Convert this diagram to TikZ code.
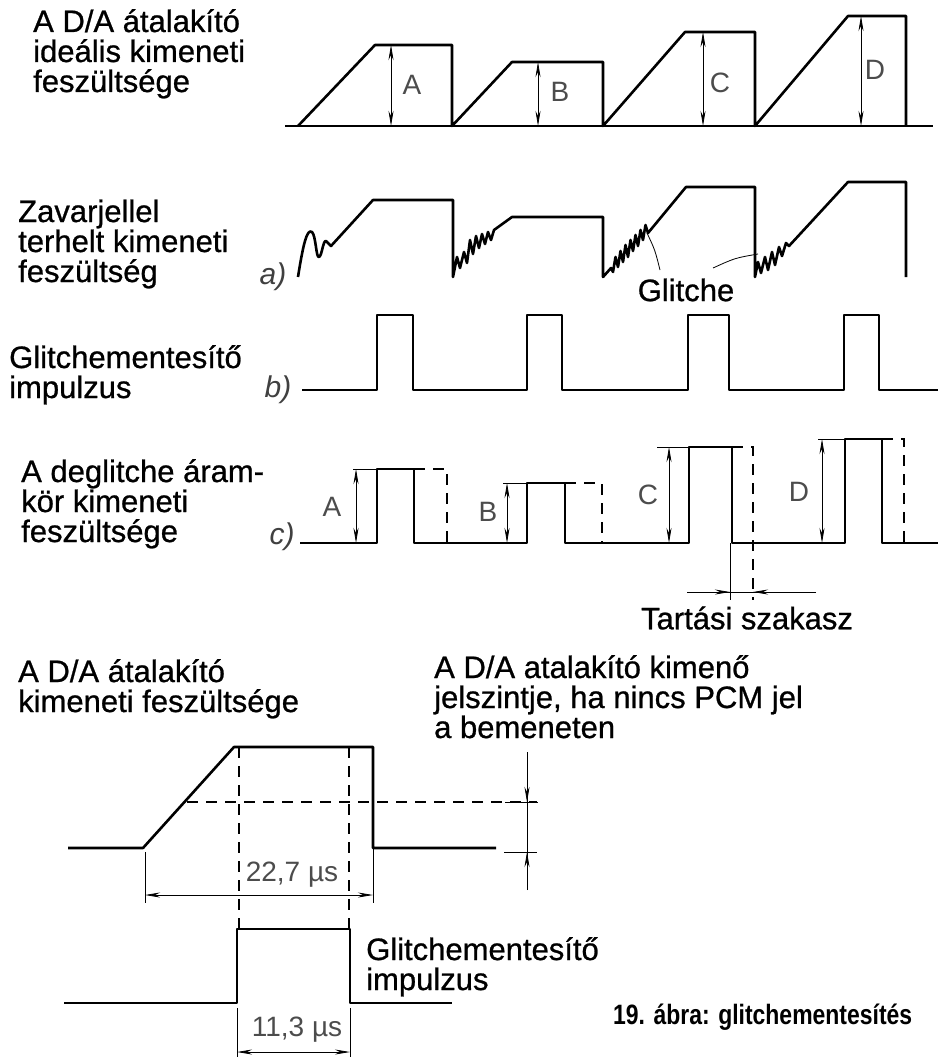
\documentclass[tikz,border=0pt]{standalone}
\usepackage{graphicx}
\usepackage{fontspec}
\setmainfont{Liberation Sans}
\newfontfamily\labelfam[FakeBold=0.8]{Liberation Sans}
\usetikzlibrary{arrows.meta}

\begin{document}
\begin{tikzpicture}[
  x=1pt, y=-1pt,
  >={Stealth[length=15pt,width=5pt]},
  wave/.style={line width=2.6pt, line join=round},
  dsh/.style={line width=1.1pt, dash pattern=on 11pt off 8pt},
  fine/.style={line width=0.8pt},
  dim/.style={fine, <->},
  lbl/.style={font=\labelfam\fontsize{31}{30}\selectfont, align=left, anchor=base west, inner sep=0pt},
  tech/.style={font=\fontsize{28}{28}\selectfont, text=black!70, inner sep=0pt},
  tag/.style={font=\itshape\fontsize{30}{30}\selectfont, text=black!75, inner sep=0pt}
]
\useasboundingbox (0,0) rectangle (938,1057);

% ideal output
\node[lbl] (ideal) at (33,92) {A D/A átalakító\\ideális kimeneti\\feszültsége};
\draw[wave] (285,126) -- (933,126);
\draw[wave] (298,126) -- (375,45) -- (452,45) -- (452,126) -- (512,62) -- (603,62) -- (603,126)
  -- (685,32) -- (755,32) -- (755,126) -- (848,16) -- (906,16) -- (906,126);
\draw[dim] (391,45) -- (391,126);
\draw[dim] (538,62) -- (538,126);
\draw[dim] (703,32) -- (703,126);
\draw[dim] (861,16) -- (861,126);
\node[tech] (hA) at (412,85) {A};
\node[tech] (hB) at (560,92) {B};
\node[tech] (hC) at (720,83) {C};
\node[tech] (hD) at (875,70) {D};

% output with glitches
\node[lbl] (noisy) at (18,282) {Zavarjellel\\terhelt kimeneti\\feszültség};
\node[tag] (ta) at (273,277) {a)};
\draw[wave] (298,277) .. controls (303,245) and (307,228) .. (312,232)
  .. controls (316,236) and (316,258) .. (319,257) .. controls (322,256) and (323,240) .. (326,241)
  -- (331,246) -- (373,200) -- (453,200) -- (453,277)
  -- (457,257) -- (460,268) -- (464,252) -- (467,263) -- (470,240) -- (473,254) -- (476,236)
  -- (479,248) -- (482,234) -- (485,244) -- (488,232) -- (491,240) -- (494,230)
  -- (512,217) -- (603,217) -- (603,277)
  -- (611,268) -- (613,272) -- (615.5,257) -- (618,267) -- (620.5,251) -- (623,262) -- (625.5,245)
  -- (628,257) -- (630.5,240) -- (633,251) -- (635.5,235) -- (638,246) -- (640.5,230)
  -- (643,240) -- (645.5,225) -- (648,233)
  -- (686,187) -- (755,187) -- (755,277)
  -- (758,262) -- (761,273) -- (765,257) -- (768,270) -- (772,252) -- (775,265) -- (779,247)
  -- (782,256) -- (786,243) -- (789,246) -- (848,182) -- (906,182) -- (906,277);
\node[font=\labelfam\fontsize{31}{31}\selectfont, inner sep=0pt] (glitch) at (686,290) {Glitche};
\draw[fine] (660,270) .. controls (655,250) .. (647,233);
\draw[fine] (713,268) .. controls (735,258) .. (758,254);

% deglitch pulses
\node[lbl] (pulse) at (9,398) {Glitchementesítő\\impulzus};
\node[tag] (tb) at (278,390) {b)};
\draw[wave] (302,390) -- (377,390) -- (377,315) -- (413,315) -- (413,390) -- (527,390) -- (527,315)
  -- (562,315) -- (562,390) -- (688,390) -- (688,315) -- (729,315) -- (729,390) -- (844,390)
  -- (844,315) -- (879,315) -- (879,390) -- (938,390);

% deglitcher output
\node[lbl] (held) at (21,542) {A deglitche áram-\\kör kimeneti\\feszültsége};
\node[tag] (tc) at (282,537) {c)};
\draw[wave] (300,543) -- (377,543) -- (377,469) -- (414,469) -- (414,543) -- (527,543) -- (527,483)
  -- (565,483) -- (565,543) -- (689,543) -- (689,447) -- (732,447) -- (732,543) -- (845,543)
  -- (845,439) -- (882,439) -- (882,543) -- (938,543);
\draw[dsh] (414,469) -- (447,469) -- (447,543);
\draw[dsh] (565,483) -- (602,483) -- (602,543);
\draw[dsh] (732,447) -- (753,447) -- (753,600);
\draw[dsh] (882,439) -- (904,439) -- (904,543);
\draw[fine] (353,469) -- (377,469);
\draw[fine] (503,483) -- (527,483);
\draw[fine] (657,447) -- (689,447);
\draw[fine] (818,439) -- (845,439);
\draw[dim] (356,469) -- (356,543);
\draw[dim] (507,483) -- (507,543);
\draw[dim] (669,447) -- (669,543);
\draw[dim] (822,439) -- (822,543);
\node[tech] (lA) at (332,507) {A};
\node[tech] (lB) at (488,512) {B};
\node[tech] (lC) at (648,495) {C};
\node[tech] (lD) at (799,492) {D};
\draw[fine] (730,543) -- (730,600);
\draw[fine] (687,592) -- (816,592);
\draw[fine, ->] (687,592) -- (730,592);
\draw[fine, ->] (816,592) -- (753,592);
\node[font=\labelfam\fontsize{31}{31}\selectfont, inner sep=0pt] (hold) at (747,618) {Tartási szakasz};

% timing detail
\node[lbl] (dac) at (18,712) {A D/A átalakító\\kimeneti feszültsége};
\node[lbl] (idle) at (434,738) {A D/A atalakító kimenő\\jelszintje, ha nincs PCM jel\\a bemeneten};
\draw[wave] (68,848) -- (143,848) -- (234,747) -- (373,747) -- (373,848) -- (496,848);
\draw[dsh] (187,802) -- (537,802);
\draw[dsh] (239,747) -- (239,929);
\draw[dsh] (349,747) -- (349,929);
\draw[fine] (145,852) -- (145,903);
\draw[fine] (373,848) -- (373,903);
\draw[dim] (145,895) -- (373,895);
\node[tech] (t227) at (292,875) {22,7 µs};
\draw[fine] (527,752) -- (527,890);
\draw[fine, ->] (527,760) -- (527,802);
\draw[fine, ->] (527,890) -- (527,852);
\draw[fine] (505,802) -- (538,802);
\draw[fine] (504,852) -- (537,852);

\node[lbl] (pulse2) at (366,990) {Glitchementesítő\\impulzus};
\draw[wave] (64,1003) -- (237,1003) -- (237,929) -- (350,929) -- (350,1003) -- (452,1003);
\draw[fine] (237,1008) -- (237,1057);
\draw[fine] (350,1008) -- (350,1057);
\draw[dim] (237,1052) -- (350,1052);
\node[tech] (t113) at (297,1030) {11,3 µs};

\node[font=\bfseries\fontsize{28}{28}\selectfont, anchor=west, inner sep=0pt] (caption) at (613,1017) {\scalebox{0.82}[1]{19. ábra: glitchementesítés}};
\end{tikzpicture}
\end{document}
